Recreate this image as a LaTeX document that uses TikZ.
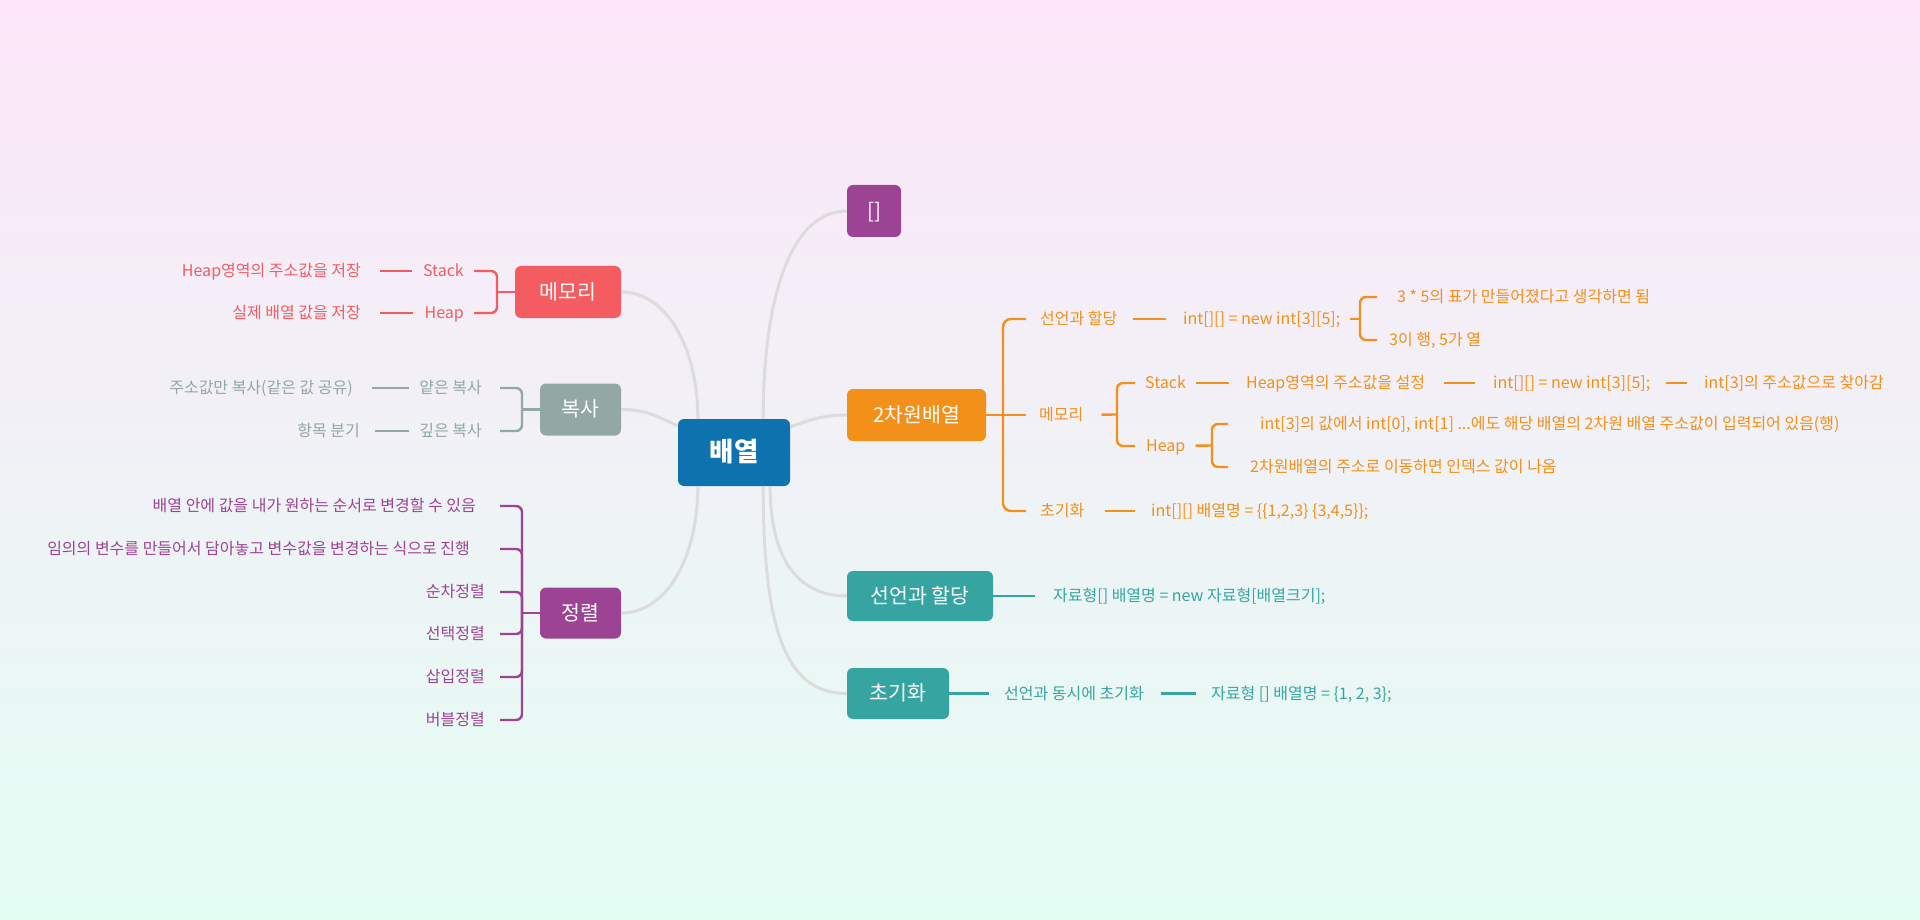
\documentclass[tikz,border=0pt]{standalone}
\usepackage{fontspec}
\setmainfont{Noto Sans CJK KR}
\definecolor{bgtop}{HTML}{FDE6F9}
\definecolor{bgbot}{HTML}{E3FDF3}
\definecolor{linegray}{HTML}{DCDCDC}
\definecolor{cblue}{HTML}{0D72AD}
\definecolor{cred}{HTML}{F35C61}
\definecolor{cgray}{HTML}{93A7A3}
\definecolor{cpurple}{HTML}{9D4393}
\definecolor{corange}{HTML}{F29019}
\definecolor{cteal}{HTML}{36A5A2}
\tikzset{
  conn/.style={draw=linegray, line width=3pt},
  br/.style={line width=2.4pt, rounded corners=6pt},
  stub/.style={line width=2.4pt},
  leaf/.style={inner sep=0pt, font=\fontsize{16}{19}\selectfont, text height=12.8pt, text depth=1.6pt},
  box/.style={rounded corners=6pt, text=white, inner sep=0pt, font=\fontsize{20.5}{24}\selectfont, text height=16.5pt, text depth=2pt},
}
\begin{document}
\begin{tikzpicture}[x=1pt,y=-1pt]
\useasboundingbox (0,0) rectangle (1920,920);
\shade[top color=bgtop, bottom color=bgbot, middle color=bgtop!50!bgbot] (0,0) rectangle (1920,920);

% ---------- boxes ----------
\node[box, fill=cblue, minimum width=112pt, minimum height=67pt, font=\bfseries\fontsize{26.5}{30}\selectfont, text height=21pt, text depth=2.5pt] (root) at (734,452.5) {배열};
\node[box, fill=cred, minimum width=106pt, minimum height=52pt] (mem) at (568,292) {메모리};
\node[box, fill=cgray, minimum width=81pt, minimum height=52pt] (copy) at (580.5,409.5) {복사};
\node[box, fill=cpurple, minimum width=81pt, minimum height=51pt] (sort) at (580.5,613) {정렬};
\node[box, fill=cpurple, minimum width=54pt, minimum height=52pt] (arr) at (874,211) {[]};
\node[box, fill=corange, minimum width=139pt, minimum height=52pt] (twoD) at (916.5,415) {2차원배열};
\node[box, fill=cteal, minimum width=146pt, minimum height=50pt] (tDecl) at (920,596) {선언과 할당};
\node[box, fill=cteal, minimum width=102pt, minimum height=51pt] (tInit) at (898,693.5) {초기화};

% ---------- main connectors ----------
\draw[conn] (mem.east) .. controls (668,292) and (698,350) .. ([xshift=20pt]root.north west);
\draw[conn] (copy.east) .. controls (648,409.5) and (660,418) .. ([yshift=-7pt]root.north west);
\draw[conn] (sort.east) .. controls (668,613) and (698,555) .. ([xshift=20pt]root.south west);
\draw[conn] ([xshift=-27pt]root.north east) .. controls (763,300) and (790,211) .. (arr.west);
\draw[conn] ([yshift=-8pt]root.north east) .. controls (812,419) and (825,415) .. (twoD.west);
\draw[conn] ([xshift=-20pt]root.south east) .. controls (770,550) and (792,596) .. (tDecl.west);
\draw[conn] ([xshift=-27pt]root.south east) .. controls (763,640) and (790,693.5) .. (tInit.west);

% ---------- left: memory ----------
\begin{scope}[every node/.style={leaf, text=cred, anchor=east}, cred]
\node (lStack) at (464,271) {Stack};
\node (lStackD) at (361,271) {Heap영역의 주소값을 저장};
\node (lHeap) at (464,313) {Heap};
\node (lHeapD) at (361,313) {실제 배열 값을 저장};
\end{scope}
\coordinate (lMemSp) at (497,292);
\draw[cred, stub] (mem) -- (lMemSp);
\draw[cred, br] (lMemSp) |- ([xshift=-23pt]lMemSp |- lStack);
\draw[cred, br] (lMemSp) |- ([xshift=-23pt]lMemSp |- lHeap);
\draw[cred, stub, shorten <=19pt, shorten >=11pt] (lStackD) -- (lStack);
\draw[cred, stub, shorten <=19pt, shorten >=11pt] (lHeapD) -- (lHeap);

% ---------- left: copy ----------
\begin{scope}[every node/.style={leaf, text=cgray, anchor=east}]
\node (cShallow) at (482,388) {얕은 복사};
\node (cShallowD) at (353,388) {주소값만 복사(같은 값 공유)};
\node (cDeep) at (482,431) {깊은 복사};
\node (cDeepD) at (360,431) {항목 분기};
\end{scope}
\coordinate (cSp) at (522,409.5);
\draw[cgray, stub] (copy) -- (cSp);
\draw[cgray, br] (cSp) |- ([xshift=-22pt]cSp |- cShallow);
\draw[cgray, br] (cSp) |- ([xshift=-22pt]cSp |- cDeep);
\draw[cgray, stub, shorten <=19pt, shorten >=10pt] (cShallowD) -- (cShallow);
\draw[cgray, stub, shorten <=15pt, shorten >=10pt] (cDeepD) -- (cDeep);

% ---------- left: sort ----------
\begin{scope}[every node/.style={leaf, text=cpurple, anchor=east}]
\node (s1) at (476,506) {배열 안에 값을 내가 원하는 순서로 변경할 수 있음};
\node (s2) at (470,549) {임의의 변수를 만들어서 담아놓고 변수값을 변경하는 식으로 진행};
\node (s3) at (485,592) {순차정렬};
\node (s4) at (485,634) {선택정렬};
\node (s5) at (485,677) {삽입정렬};
\node (s6) at (485,720) {버블정렬};
\end{scope}
\coordinate (sSp) at (522,613);
\draw[cpurple, stub] (sort) -- (sSp);
\foreach \n in {s1,s2,s3,s4,s5,s6}
  \draw[cpurple, br] (sSp) |- ([xshift=-22pt]sSp |- \n);

% ---------- right: 2D array ----------
\begin{scope}[every node/.style={leaf, text=corange, anchor=west}]
\node (oDecl) at (1040,319) {선언과 할당};
\node (oDeclCode) at (1183,319) {int[][] = new int[3][5];};
\node (oD1) at (1397,297) {3 * 5의 표가 만들어졌다고 생각하면 됨};
\node (oD2) at (1389,340) {3이 행, 5가 열};
\node (oMem) at (1039,415) {메모리};
\node (oStack) at (1145,383) {Stack};
\node (oStack1) at (1246,383) {Heap영역의 주소값을 설정};
\node (oStack2) at (1493,383) {int[][] = new int[3][5];};
\node (oStack3) at (1704,383) {int[3]의 주소값으로 찾아감};
\node (oHeap) at (1146,446) {Heap};
\node (oH1) at (1260,424) {int[3]의 값에서 int[0], int[1] ...에도 해당 배열의 2차원 배열 주소값이 입력되어 있음(행)};
\node (oH2) at (1250,467) {2차원배열의 주소로 이동하면 인덱스 값이 나옴};
\node (oInit) at (1040,511) {초기화};
\node (oInitCode) at (1151,511) {int[][] 배열명 = \{\{1,2,3\} \{3,4,5\}\};};
\end{scope}
\coordinate (oSp) at (1003,415);
\draw[corange, stub] (twoD) -- ([xshift=23pt]oSp |- oMem);
\draw[corange, br, rounded corners=8pt] (oSp) |- ([xshift=23pt]oSp |- oDecl);
\draw[corange, br, rounded corners=8pt] (oSp) |- ([xshift=23pt]oSp |- oInit);
% declaration
\coordinate (oDeclSp) at (1360,319);
\coordinate (oDeclStub) at (1350,319);
\draw[corange, stub, shorten <=15pt, shorten >=17pt] (oDecl) -- (oDeclCode);
\draw[corange, stub] (oDeclStub) -- (oDeclSp);
\draw[corange, br] (oDeclSp) |- ([xshift=17pt]oDeclSp |- oD1);
\draw[corange, br] (oDeclSp) |- ([xshift=17pt]oDeclSp |- oD2);
% memory
\coordinate (oMemSp) at (1117,414.5);
\draw[corange, stub, shorten <=18pt] (oMem) -- (oMemSp);
\draw[corange, br] (oMemSp) |- ([xshift=18pt]oMemSp |- oStack);
\draw[corange, br] (oMemSp) |- ([xshift=18pt]oMemSp |- oHeap);
\draw[corange, stub, shorten <=10pt, shorten >=17pt] (oStack) -- (oStack1);
\draw[corange, stub, shorten <=19pt, shorten >=18pt] (oStack1) -- (oStack2);
\draw[corange, stub, shorten <=16pt, shorten >=17pt] (oStack2) -- (oStack3);
\coordinate (oHeapSp) at (1212,445.5);
\draw[corange, stub, shorten <=10pt] (oHeap) -- (oHeapSp);
\draw[corange, br] (oHeapSp) |- ([xshift=16pt]oHeapSp |- oH1);
\draw[corange, br] (oHeapSp) |- ([xshift=16pt]oHeapSp |- oH2);
% init
\draw[corange, stub, shorten <=20pt, shorten >=16pt] (oInit) -- (oInitCode);

% ---------- right: teal ----------
\begin{scope}[every node/.style={leaf, text=cteal, anchor=west}]
\node (tDeclT) at (1053,596) {자료형[] 배열명 = new 자료형[배열크기];};
\node (tInit1) at (1004,693.5) {선언과 동시에 초기화};
\node (tInit2) at (1211,693.5) {자료형 [] 배열명 = \{1, 2, 3\};};
\end{scope}
\draw[cteal, stub, shorten >=18pt] (tDecl) -- (tDeclT);
\draw[cteal, stub, shorten >=15pt] (tInit) -- (tInit1);
\draw[cteal, stub, shorten <=17pt, shorten >=15pt] (tInit1) -- (tInit2);
\end{tikzpicture}
\end{document}
